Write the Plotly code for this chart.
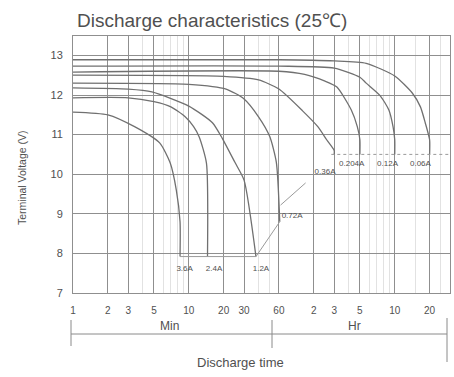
import math
import plotly.graph_objects as go

# ---- data (time in minutes, voltage in V) ----
tick_minutes = [1, 2, 3, 5, 10, 20, 30, 60, 120, 180, 300, 600, 1200, 1800]
tick_text = ["1", "2", "3", "5", "10", "20", "30", "60", "2", "3", "5", "10", "20", "30"]
minor_minutes = [4, 6, 7, 8, 9, 40, 50, 240, 360, 420, 480, 540, 900, 1500]
volt_ticks = [7, 8, 9, 10, 11, 12, 13]

t_36A = [1, 2, 3.4, 5.6, 6.9, 7.8, 8.4, 8.4]
v_36A = [11.57, 11.5, 11.2, 10.79, 10.29, 9.6, 8.8, 7.92]

t_24A = [1, 3, 5, 7, 9.3, 11, 12.3, 14.2, 14.5]
v_24A = [11.93, 11.93, 11.83, 11.7, 11.45, 11.2, 10.94, 10.28, 7.92]

t_12A = [1, 3, 4.8, 10, 16, 19.5, 25, 30, 38]
v_12A = [12.18, 12.15, 12.08, 11.72, 11.3, 10.9, 10.3, 9.85, 7.92]

t_072A = [1, 10, 21, 30, 40, 50, 57, 61]
v_072A = [12.3, 12.27, 12.15, 11.9, 11.45, 10.95, 10.3, 8.8]

t_036A = [1, 20, 40, 60, 96, 130, 155, 180, 180]
v_036A = [12.5, 12.47, 12.38, 12.15, 11.6, 11.2, 10.87, 10.6, 10.5]

t_0204A = [1, 60, 100, 150, 190, 253, 285, 300, 300]
v_0204A = [12.58, 12.6, 12.52, 12.35, 12.2, 11.62, 11.2, 10.87, 10.5]

t_012A = [1, 60, 180, 300, 340, 450, 534, 580, 600, 600]
v_012A = [12.73, 12.73, 12.68, 12.45, 12.3, 11.98, 11.62, 11.2, 10.87, 10.5]

t_006A = [1, 60, 180, 340, 600, 850, 1000, 1100, 1200, 1200]
v_006A = [12.89, 12.89, 12.86, 12.8, 12.48, 12.05, 11.7, 11.3, 10.87, 10.5]

curve_names = ["3.6A", "2.4A", "1.2A", "0.72A", "0.36A", "0.204A", "0.12A", "0.06A"]
curve_t = [t_36A, t_24A, t_12A, t_072A, t_036A, t_0204A, t_012A, t_006A]
curve_v = [v_36A, v_24A, v_12A, v_072A, v_036A, v_0204A, v_012A, v_006A]

# label anchor positions (minutes, volts)
label_t = [9.2, 16.5, 42, 78, 150, 255, 520, 1000]
label_v = [7.6, 7.6, 7.6, 8.95, 10.05, 10.25, 10.25, 10.25]

# end-voltage guide lines
guide_low_t = [8.4, 38]
guide_low_v = [7.92, 7.92]
guide_high_t = [170, 1800]
guide_high_v = [10.5, 10.5]
leader1_t = [38, 61]
leader1_v = [7.92, 8.8]
leader2_t = [62, 102]
leader2_v = [9.22, 9.78]

grid_col = "#8f8f8f"
curve_col = "#707070"
text_col = "#505050"
font_family = "Liberation Sans, Arial, sans-serif"

fig = go.Figure()
for name, tt, vv in zip(curve_names, curve_t, curve_v):
    fig.add_trace(go.Scatter(x=tt, y=vv, mode="lines", name=name,
                             line=dict(color=curve_col, width=1.3, shape="spline", smoothing=0.6),
                             hoverinfo="skip", showlegend=False))

for tt, vv, dash in [(guide_low_t, guide_low_v, "solid"), (guide_high_t, guide_high_v, "dot"),
                     (leader1_t, leader1_v, "solid"), (leader2_t, leader2_v, "solid")]:
    fig.add_trace(go.Scatter(x=tt, y=vv, mode="lines", line=dict(color="#9a9a9a", width=1, dash=dash),
                             hoverinfo="skip", showlegend=False))

fig.add_trace(go.Scatter(x=label_t, y=label_v, mode="text", text=curve_names,
                         textfont=dict(size=8, color=text_col, family=font_family),
                         hoverinfo="skip", showlegend=False))

fig.update_xaxes(type="log", range=[0, math.log10(1800)],
                 tickmode="array", tickvals=tick_minutes, ticktext=tick_text,
                 showgrid=True, gridcolor=grid_col, gridwidth=1,
                 minor=dict(tickmode="array", tickvals=minor_minutes, showgrid=True,
                            gridcolor="#e2e2e2", gridwidth=1),
                 showline=True, linecolor=grid_col, mirror=True, zeroline=False,
                 ticks="", ticklabelstandoff=8,
                 tickfont=dict(size=10, color=text_col, family=font_family))
fig.update_yaxes(range=[7, 13.49], tickmode="array", tickvals=volt_ticks,
                 showgrid=True, gridcolor=grid_col, gridwidth=1,
                 showline=True, linecolor=grid_col, mirror=True, zeroline=False,
                 ticks="", ticklabelstandoff=7,
                 tickfont=dict(size=11, color=text_col, family=font_family))

L, R, T, B = 73, 4, 36, 84
W, H = 454, 377
pw, ph = W - L - R, H - T - B

def px(x):
    return (x - L) / pw

def py(y):
    return (H - B - y) / ph

annotations = [
    dict(text="Discharge characteristics (25℃)", x=px(75), y=py(21), xanchor="left", yanchor="middle",
         font=dict(size=19, color=text_col, family=font_family)),
    dict(text="Terminal Voltage (V)", x=px(22), y=py(178), xanchor="center", yanchor="middle", textangle=-90,
         font=dict(size=10.5, color=text_col, family=font_family)),
    dict(text="Min", x=px(169), y=py(326), xanchor="center", yanchor="middle",
         font=dict(size=12, color=text_col, family=font_family)),
    dict(text="Hr", x=px(354), y=py(326), xanchor="center", yanchor="middle",
         font=dict(size=12, color=text_col, family=font_family)),
    dict(text="Discharge time", x=px(240), y=py(362), xanchor="center", yanchor="middle",
         font=dict(size=13, color=text_col, family=font_family)),
]
for a in annotations:
    a.update(xref="paper", yref="paper", showarrow=False)

shapes = [
    dict(x0=px(71), x1=px(447), y0=py(334), y1=py(334)),
    dict(x0=px(71), x1=px(71), y0=py(320), y1=py(346)),
    dict(x0=px(272), x1=px(272), y0=py(320), y1=py(348)),
    dict(x0=px(447), x1=px(447), y0=py(318), y1=py(362)),
]
for s in shapes:
    s.update(type="line", xref="paper", yref="paper", line=dict(color="#8a8a8a", width=1))

fig.update_layout(width=W, height=H, margin=dict(l=L, r=R, t=T, b=B, autoexpand=False),
                  paper_bgcolor="white", plot_bgcolor="white",
                  annotations=annotations, shapes=shapes, showlegend=False)

fig.write_html("out.html")
